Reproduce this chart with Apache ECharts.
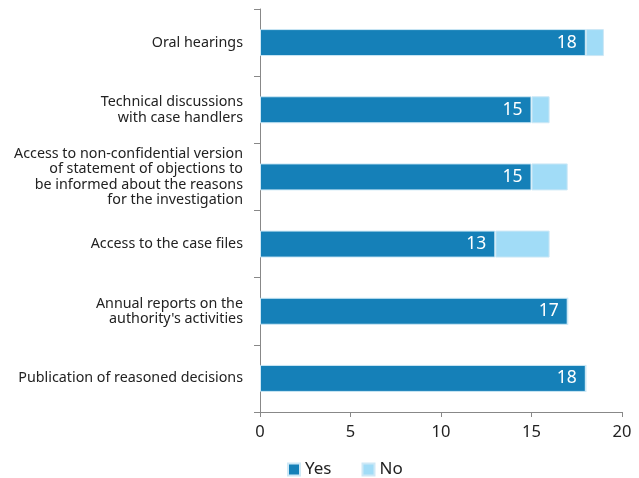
<!DOCTYPE html>
<html>
<head>
<meta charset="utf-8">
<script src="https://cdn.jsdelivr.net/npm/echarts@6/dist/echarts.min.js"></script>
<style>
  html, body { margin: 0; padding: 0; background: #fff; }
  #chart { width: 639px; height: 478px; }
</style>
</head>
<body>
<div id="chart"></div>
<script>
// categories, top to bottom
const categories = [
  'Oral hearings',
  'Technical discussions\nwith case handlers',
  'Access to non-confidential version\nof statement of objections to\nbe informed about the reasons\nfor the investigation',
  'Access to the case files',
  'Annual reports on the\nauthority\'s activities',
  'Publication of reasoned decisions'
]
const yesValues = [18, 15, 15, 13, 17, 18]
const noValues = [1, 1, 2, 3, 0, 0]
const xTicks = [0, 20, 5] // min, max, interval

const font = 'Noto Sans'
const chart = echarts.init(document.getElementById('chart'))

chart.setOption({
  animation: false,
  grid: { left: 260, right: 17, top: 9, bottom: 66, containLabel: false },
  legend: {
    data: ['Yes', 'No'],
    left: 282, top: 456,
    icon: 'rect', itemWidth: 12, itemHeight: 12, itemGap: 30,
    textStyle: { fontFamily: font, fontSize: 17, color: '#222' }
  },
  xAxis: {
    type: 'value', min: xTicks[0], max: xTicks[1], interval: xTicks[2],
    axisLine: { show: true, lineStyle: { color: '#888' } },
    axisTick: { show: true, length: 5, lineStyle: { color: '#888' } },
    splitLine: { show: false },
    axisLabel: { fontFamily: font, fontSize: 16.5, color: '#222', margin: 12 }
  },
  yAxis: {
    type: 'category', data: categories, inverse: true,
    axisLine: { show: true, lineStyle: { color: '#888' } },
    axisTick: { show: true, length: 6, lineStyle: { color: '#888' } },
    axisLabel: {
      fontFamily: font, fontSize: 14.3, lineHeight: 15.5, color: '#222',
      align: 'right', margin: 17
    }
  },
  series: [
    {
      name: 'Yes', type: 'bar', stack: 'total', data: yesValues, barWidth: 27,
      itemStyle: { color: '#1580b8', borderColor: '#cde8f6', borderWidth: 1 },
      label: {
        show: true, position: 'insideRight', distance: 9,
        color: '#fff', fontFamily: font, fontSize: 17.5
      }
    },
    {
      name: 'No', type: 'bar', stack: 'total', data: noValues, barWidth: 27,
      itemStyle: { color: '#a1dcf7', borderColor: '#cde8f6', borderWidth: 1 }
    }
  ]
})
</script>
</body>
</html>
